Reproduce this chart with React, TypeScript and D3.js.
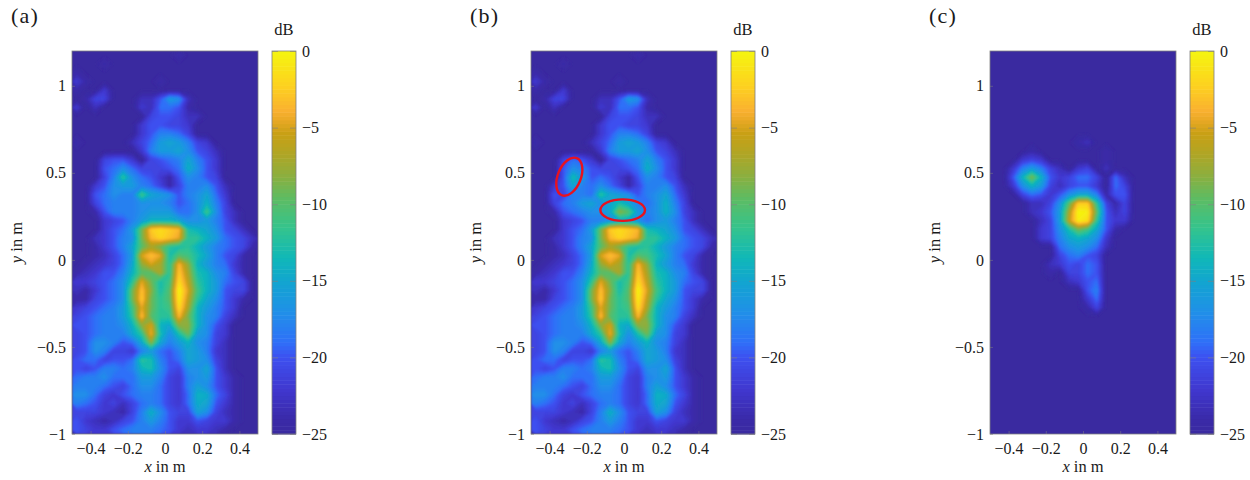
import { useEffect, useRef } from "react";
import * as d3 from "d3";

// dB values on a 0.05 m grid. rows run top (y = 1.2) to bottom (y = -1)
const panelA = [
  [-25,-25,-25,-25,-25,-25,-25,-25,-25,-25,-25,-24,-25,-25,-25,-25,-25,-25,-25,-25],
  [-25,-25,-25,-24,-25,-25,-25,-25,-25,-25,-25,-25,-25,-25,-25,-25,-25,-25,-25,-25],
  [-24,-25,-25,-25,-25,-25,-25,-25,-25,-25,-25,-25,-25,-25,-25,-25,-25,-25,-25,-25],
  [-22,-24,-25,-25,-25,-25,-25,-25,-25,-24,-25,-25,-25,-25,-25,-25,-25,-25,-25,-25],
  [-24,-25,-25,-22,-25,-25,-25,-25,-25,-25,-25,-25,-25,-25,-25,-25,-25,-25,-25,-25],
  [-25,-24,-21,-21,-25,-25,-25,-23,-23,-20,-16,-17,-23,-25,-25,-25,-25,-25,-25,-25],
  [-22,-25,-23,-25,-25,-25,-25,-22,-23,-19,-19,-20,-24,-25,-25,-25,-25,-25,-25,-25],
  [-25,-25,-25,-25,-25,-25,-25,-25,-21,-20,-20,-21,-23,-23,-25,-25,-25,-25,-25,-25],
  [-25,-25,-25,-25,-25,-25,-25,-22,-20,-20,-21,-21,-22,-25,-25,-25,-25,-25,-25,-25],
  [-25,-25,-25,-25,-25,-25,-25,-22,-20,-18,-18,-19,-21,-25,-25,-25,-25,-25,-25,-25],
  [-24,-25,-25,-25,-25,-25,-23,-21,-19,-16,-15,-16,-18,-21,-22,-25,-25,-25,-25,-25],
  [-25,-25,-25,-25,-25,-25,-25,-22,-18,-16,-16,-15,-17,-20,-21,-23,-25,-25,-25,-25],
  [-25,-25,-25,-21,-20,-20,-22,-25,-21,-20,-19,-18,-15,-18,-20,-22,-25,-25,-25,-25],
  [-25,-25,-25,-20,-19,-17,-19,-21,-21,-21,-20,-19,-14,-17,-20,-22,-25,-25,-25,-25],
  [-25,-25,-25,-21,-18,-12,-17,-19,-20,-22,-24,-20,-17,-18,-20,-21,-25,-25,-25,-25],
  [-25,-25,-22,-20,-17,-16,-16,-18,-19,-21,-24,-21,-18,-18,-17,-20,-23,-25,-25,-25],
  [-25,-25,-20,-19,-17,-18,-18,-11,-15,-16,-17,-20,-18,-17,-15,-19,-22,-25,-25,-25],
  [-25,-25,-21,-19,-18,-18,-18,-17,-17,-17,-18,-20,-19,-17,-14,-18,-21,-25,-25,-25],
  [-25,-25,-24,-20,-18,-18,-18,-17,-16,-16,-16,-19,-19,-17,-11,-17,-21,-23,-25,-25],
  [-25,-25,-25,-22,-21,-20,-18,-16,-14,-14,-14,-15,-17,-17,-16,-18,-20,-23,-25,-25],
  [-25,-25,-25,-22,-20,-19,-16,-9,-2.5,-1.5,-2.5,-3.5,-13,-14,-15,-17,-20,-21,-23,-25],
  [-25,-25,-23,-22,-20,-18,-17,-9,-3.5,-2,-3,-4.5,-12,-12,-14,-16,-19,-20,-21,-23],
  [-25,-25,-24,-22,-20,-18,-15,-10,-7,-9,-12,-13,-12,-14,-16,-18,-19,-20,-21,-24],
  [-25,-25,-24,-23,-21,-19,-16,-5,-3,-4.5,-13,-10,-11,-13,-15,-18,-20,-21,-24,-25],
  [-25,-24,-23,-22,-21,-19,-15,-8,-5,-7,-12,-3.5,-8,-14,-16,-18,-19,-22,-24,-25],
  [-24,-23,-22,-20,-20,-18,-14,-10,-10,-7,-12,-2.5,-7,-13,-14,-17,-18,-21,-24,-25],
  [-22,-22,-21,-20,-19,-17,-12,-4.5,-9,-13,-11,-1.5,-6,-12,-14,-16,-19,-20,-21,-25],
  [-23,-24,-22,-20,-19,-17,-9,-3,-8,-13,-10,0,-5,-11,-14,-16,-20,-21,-21,-25],
  [-24,-24,-21,-20,-19,-17,-9,-2.5,-9,-12,-10,-0.5,-6,-12,-15,-17,-20,-22,-24,-25],
  [-22,-21,-20,-19,-18,-16,-11,-4.5,-9,-12,-11,-1.5,-7,-14,-16,-18,-20,-22,-25,-25],
  [-21,-20,-19,-18,-18,-16,-12,-3,-10,-12,-12,-3.5,-9,-14,-17,-18,-21,-23,-25,-25],
  [-20,-20,-19,-18,-18,-17,-14,-8,-5,-14,-15,-8,-8,-14,-17,-20,-22,-25,-25,-25],
  [-21,-20,-19,-18,-18,-18,-15,-12,-4,-13,-17,-13,-9,-16,-17,-21,-22,-25,-25,-25],
  [-21,-20,-17,-17,-18,-20,-19,-15,-8,-15,-18,-16,-14,-17,-18,-21,-23,-25,-25,-25],
  [-21,-20,-17,-18,-21,-21,-22,-18,-16,-19,-20,-18,-15,-16,-18,-22,-23,-25,-25,-25],
  [-20,-19,-19,-21,-20,-20,-19,-12,-13,-18,-20,-19,-15,-16,-17,-21,-23,-25,-25,-25],
  [-20,-21,-20,-18,-18,-19,-18,-14,-13,-17,-20,-21,-17,-17,-15,-20,-23,-25,-25,-25],
  [-19,-18,-18,-17,-19,-19,-19,-16,-16,-18,-21,-22,-18,-17,-16,-20,-22,-24,-25,-25],
  [-18,-18,-18,-19,-20,-21,-19,-17,-17,-19,-21,-22,-18,-15.5,-17,-20,-22,-24,-25,-25],
  [-17,-17,-19,-21,-22,-20,-19,-18,-18,-19,-21,-22,-19,-14,-14.5,-19,-21,-24,-25,-25],
  [-18,-19,-20,-22,-21,-23,-21,-19,-18,-19,-21,-22,-19,-14.5,-15,-20,-22,-24,-25,-25],
  [-21,-21,-21,-22,-23,-24,-21,-18,-14,-17,-20,-21,-21,-15.5,-17,-21,-23,-24,-25,-25],
  [-20,-22,-23,-24,-23,-21,-20,-18,-16,-18,-20,-22,-22,-20,-21,-22,-22,-24,-25,-25],
  [-20,-21,-22,-22,-20,-19,-18,-18,-18,-19,-20,-22,-23,-22,-22,-23,-24,-25,-25,-25],
];

// panel b is panel a except around the two circled spots: [row, first col, values...]
const panelBEdits = [
  [12, 3, -21, -19, -20],
  [13, 3, -20, -17, -18, -20],
  [14, 3, -20, -13, -16, -20],
  [15, 3, -20, -15, -18, -19, -17],
  [16, 3, -21, -18, -18, -19, -12, -15],
  [17, 4, -18, -16, -15, -17, -15, -13, -15, -18],
  [18, 4, -19, -18, -17, -17, -15, -8, -10, -16, -18, -17, -14],
  [19, 7, -18, -17, -15, -15, -17, -19],
];

// panel c is mostly floor, so only the lit stretches: [row, first col, values...]
const panelCSpans = [
  [10, 9, -24, -23],
  [11, 4, -24],
  [11, 12, -24],
  [12, 3, -22, -21, -22],
  [12, 12, -24],
  [13, 2, -22, -18, -16, -18, -21, -23, -25, -22, -21, -25, -23],
  [14, 2, -20, -14, -8.5, -14, -20, -22, -21, -19, -19, -21, -25, -19, -23],
  [15, 2, -22, -17, -14, -16, -21, -23, -21, -20, -20, -22, -25, -19, -21],
  [16, 3, -21, -19, -20, -22, -20, -17, -15, -15, -18, -24, -20, -20],
  [17, 4, -23, -23, -21, -17, -10, -2.5, -2.5, -12, -21, -24, -21],
  [18, 4, -23, -22, -20, -16, -7, 0, -0.5, -10, -20, -23, -21],
  [19, 5, -23, -21, -16, -6, -0.5, -1.5, -12, -20, -22, -22],
  [20, 5, -22, -21, -17, -13, -9, -11, -15, -20, -24],
  [21, 5, -22, -21, -18, -15, -14, -15, -17, -22],
  [22, 7, -19, -17, -16, -17, -19, -23],
  [23, 7, -21, -19, -18, -20, -21],
  [24, 6, -23, -22, -20, -21, -19, -20],
  [25, 6, -24, -25, -21, -21, -19, -20],
  [26, 8, -23, -22, -20, -19],
  [27, 10, -20, -18],
  [28, 10, -22, -19],
  [29, 10, -24, -21],
];

const xTicks = [-0.4, -0.2, 0, 0.2, 0.4];
const yTicks = [-1, -0.5, 0, 0.5, 1];
const barTicks = [-25, -20, -15, -10, -5, 0];
const panelNames = ["(a)", "(b)", "(c)"];
const panelLefts = [72, 531, 990];
const nameLefts = [11, 470, 929];

// red ellipses in panel b: centre x, y in m, half axes in m, rotation
const ringX = [-0.294, -0.007];
const ringY = [0.478, 0.286];
const ringA = [0.062, 0.12];
const ringB = [0.115, 0.062];
const ringRot = [22, 0];

// colour stops
const stopValues = [-25, -24, -22, -20, -19, -17, -15, -13.5, -11.5, -9.5, -8.2, -6.7, -5.4, -4.5, -3.9, -2.3, 0];
const stopColors = ["#3a2aa0", "#3a2aa8", "#4038d0", "#3d50f0", "#2f70f8", "#2090e8", "#12a5cf", "#10b8b8", "#35c48c", "#60bb60", "#8aaf40", "#b0a525", "#c8a015", "#e8a825", "#f9b030", "#fdd020", "#f5f50f"];

const nCols = 20;
const nRows = 44;
const W = 186;
const TOP = 51;
const BOTTOM = 434;
const FONT = "'Liberation Serif', serif";
const EDGE = "#808080";

function applySpans(base: number[][], spans: number[][]) {
  const out = base.map((r) => r.slice());
  spans.forEach(([row, col, ...vals]) => vals.forEach((v, i) => (out[row][col + i] = v)));
  return out;
}

const panelB = applySpans(panelA, panelBEdits);
const floorRows = d3.range(nRows).map(() => d3.range(nCols).map(() => -25));
const panelC = applySpans(floorRows, panelCSpans);
const panels = [panelA, panelB, panelC];

export default function App() {
  const ref = useRef<SVGSVGElement>(null);

  useEffect(() => {
    const svg = d3.select(ref.current);
    svg.selectAll("*").remove();

    const color = d3.scaleLinear<string>().domain(stopValues).range(stopColors).clamp(true);

    const levels = d3.range(-24.875, 0.01, 0.25);
    const y = d3.scaleLinear().domain([-1, 1.2]).range([BOTTOM, TOP]);
    const bar = d3.scaleLinear().domain([-25, 0]).range([BOTTOM, TOP]);

    const defs = svg.append("defs");
    defs
      .append("filter")
      .attr("id", "soft")
      .attr("x", "-5%")
      .attr("y", "-5%")
      .attr("width", "110%")
      .attr("height", "110%")
      .append("feGaussianBlur")
      .attr("stdDeviation", 1.2);

    panels.forEach((grid, p) => {
      const left = panelLefts[p];
      const x = d3.scaleLinear().domain([-0.5, 0.5]).range([left, left + W]);
      const g = svg.append("g");

      defs
        .append("clipPath")
        .attr("id", `clip${p}`)
        .append("rect")
        .attr("x", left)
        .attr("y", TOP)
        .attr("width", W)
        .attr("height", BOTTOM - TOP);

      // contour bands so the colours stay on the colormap between grid points
      const bands = d3.contours().size([nCols, nRows]).smooth(true).thresholds(levels)(grid.flat());
      const toPx = d3.geoTransform({
        point(cx, cy) {
          (this as any).stream.point(x(-0.5 + (cx * 1) / nCols), y(1.2 - (cy * 2.2) / nRows));
        },
      });
      const path = d3.geoPath(toPx);

      g.append("rect")
        .attr("x", left)
        .attr("y", TOP)
        .attr("width", W)
        .attr("height", BOTTOM - TOP)
        .attr("fill", color(-25));

      g.append("g")
        .attr("clip-path", `url(#clip${p})`)
        .append("g")
        .attr("filter", "url(#soft)")
        .selectAll("path")
        .data(bands)
        .join("path")
        .attr("d", path as any)
        .attr("fill", (d) => color(d.value + 0.125));

      if (p === 1) {
        g.selectAll("ellipse")
          .data(ringX)
          .join("ellipse")
          .attr("transform", (d, i) => `translate(${x(d)},${y(ringY[i])}) rotate(${ringRot[i]})`)
          .attr("rx", (d, i) => x(ringA[i]) - x(0))
          .attr("ry", (d, i) => y(0) - y(ringB[i]))
          .attr("fill", "none")
          .attr("stroke", "#e8121f")
          .attr("stroke-width", 2.4);
      }

      // frame and axes
      g.append("rect")
        .attr("x", left)
        .attr("y", TOP)
        .attr("width", W)
        .attr("height", BOTTOM - TOP)
        .attr("fill", "none")
        .attr("stroke", EDGE)
        .attr("stroke-width", 0.8);

      const fmt = d3.format("~g");
      const xAxis = g
        .append("g")
        .attr("transform", `translate(0,${BOTTOM})`)
        .call(d3.axisBottom(x).tickValues(xTicks).tickFormat(fmt as any).tickSizeInner(-3).tickSizeOuter(0).tickPadding(9));
      const yAxis = g
        .append("g")
        .attr("transform", `translate(${left},0)`)
        .call(d3.axisLeft(y).tickValues(yTicks).tickFormat(fmt as any).tickSizeInner(-3).tickSizeOuter(0).tickPadding(6));
      [xAxis, yAxis].forEach((a) => {
        a.select(".domain").remove();
        a.selectAll("line").attr("stroke", EDGE).attr("stroke-opacity", 0.5);
        a.selectAll("text").attr("fill", "#1a1a1a").style("font-family", FONT).style("font-size", "16px");
      });

      const xLabel = g
        .append("text")
        .attr("x", left + W / 2)
        .attr("y", 472)
        .attr("text-anchor", "middle")
        .attr("fill", "#1a1a1a")
        .style("font-family", FONT)
        .style("font-size", "16.5px");
      xLabel.append("tspan").style("font-style", "italic").text("x");
      xLabel.append("tspan").text(" in m");

      const yLabel = g
        .append("text")
        .attr("transform", `translate(${left - 50},${(TOP + BOTTOM) / 2}) rotate(-90)`)
        .attr("text-anchor", "middle")
        .attr("fill", "#1a1a1a")
        .style("font-family", FONT)
        .style("font-size", "16.5px");
      yLabel.append("tspan").style("font-style", "italic").text("y");
      yLabel.append("tspan").text(" in m");

      g.append("text")
        .attr("x", nameLefts[p])
        .attr("y", 23)
        .attr("fill", "#1a1a1a")
        .style("font-family", FONT)
        .style("font-size", "22px")
        .style("letter-spacing", "1.2px")
        .text(panelNames[p]);

      // colorbar
      const barLeft = left + 200;
      const barWidth = 24;
      const cb = g.append("g");
      cb.selectAll("rect")
        .data(levels)
        .join("rect")
        .attr("x", barLeft)
        .attr("y", (d) => bar(d + 0.125))
        .attr("width", barWidth)
        .attr("height", (d) => bar(d - 0.125) - bar(d + 0.125) + 0.5)
        .attr("fill", (d) => color(d));
      cb.append("rect")
        .attr("x", barLeft)
        .attr("y", TOP)
        .attr("width", barWidth)
        .attr("height", BOTTOM - TOP)
        .attr("fill", "none")
        .attr("stroke", EDGE)
        .attr("stroke-width", 0.8);

      const barAxis = g
        .append("g")
        .attr("transform", `translate(${barLeft + barWidth},0)`)
        .call(d3.axisRight(bar).tickValues(barTicks).tickFormat(fmt as any).tickSizeInner(-barWidth).tickSizeOuter(0).tickPadding(6));
      barAxis.select(".domain").remove();
      barAxis.selectAll("line").attr("stroke", EDGE).attr("stroke-opacity", 0.6).attr("stroke-dasharray", "6 12 6");
      barAxis.selectAll("text").attr("fill", "#1a1a1a").style("font-family", FONT).style("font-size", "16px");

      g.append("text")
        .attr("x", barLeft + barWidth / 2)
        .attr("y", 35)
        .attr("text-anchor", "middle")
        .attr("fill", "#1a1a1a")
        .style("font-family", FONT)
        .style("font-size", "16.5px")
        .text("dB");
    });
  }, []);

  return (
    <svg
      ref={ref}
      width={1250}
      height={480}
      style={{ position: "absolute", left: 0, top: 0 }}
      role="img"
      aria-label="Three heatmaps in dB over x and y in metres"
    />
  );
}
